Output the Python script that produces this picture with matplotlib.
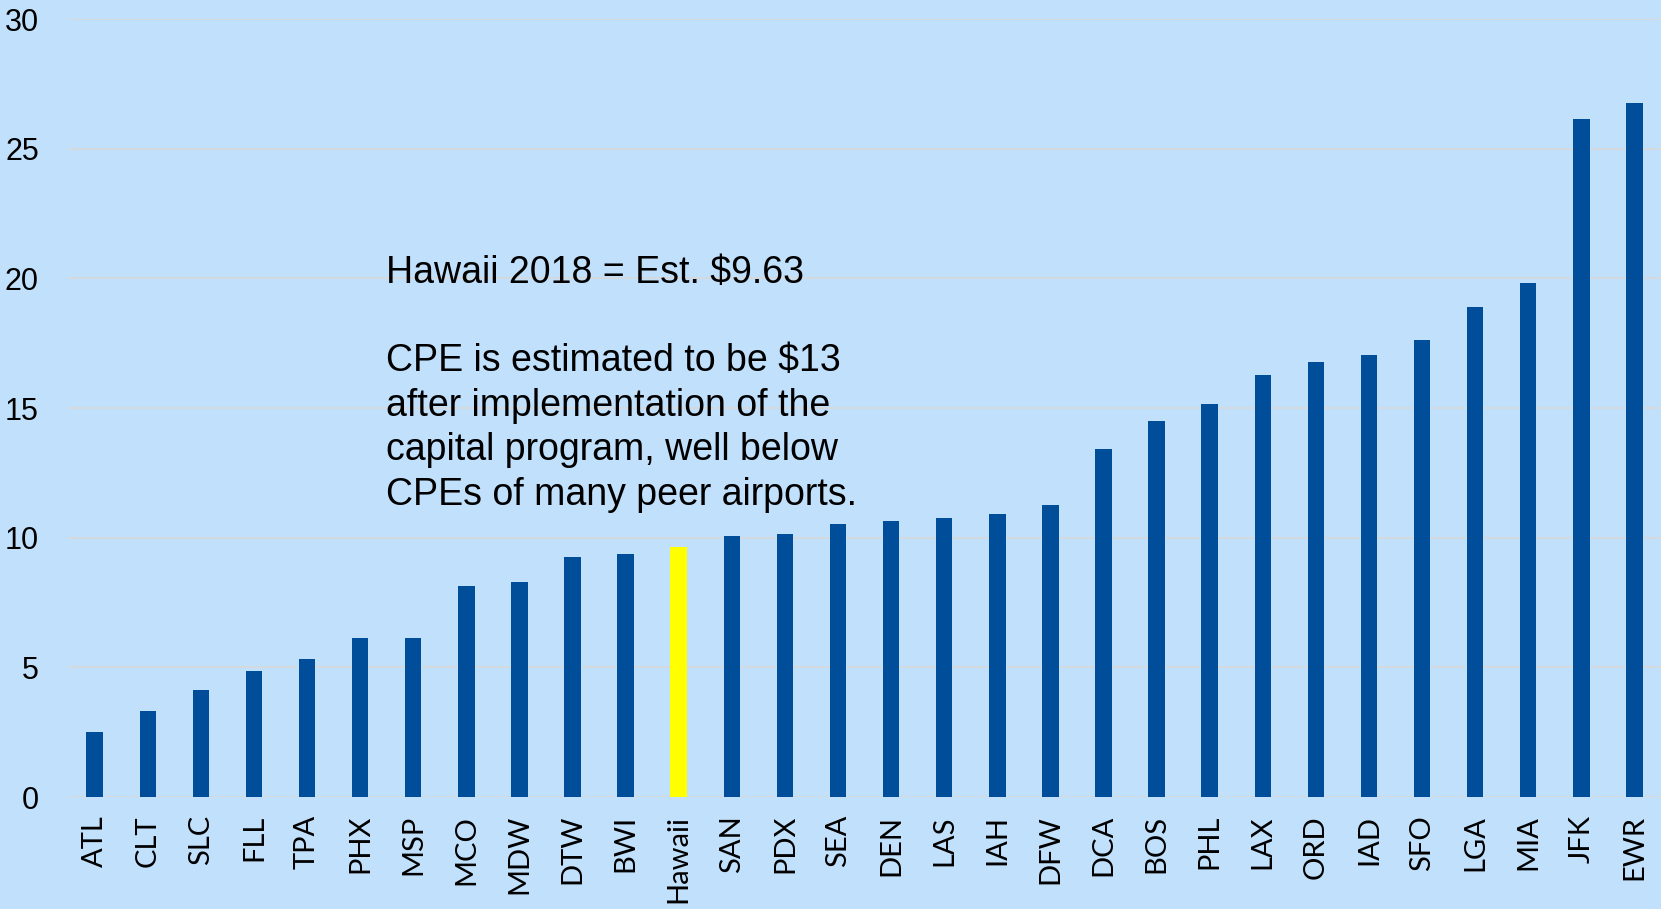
import matplotlib.pyplot as plt

airports = ["ATL", "CLT", "SLC", "FLL", "TPA", "PHX", "MSP", "MCO", "MDW", "DTW",
            "BWI", "Hawaii", "SAN", "PDX", "SEA", "DEN", "LAS", "IAH", "DFW", "DCA",
            "BOS", "PHL", "LAX", "ORD", "IAD", "SFO", "LGA", "MIA", "JFK", "EWR"]
cpe = [2.50, 3.32, 4.13, 4.87, 5.32, 6.14, 6.14, 8.15, 8.31, 9.25,
       9.37, 9.63, 10.07, 10.15, 10.52, 10.64, 10.77, 10.92, 11.28, 13.44,
       14.50, 15.17, 16.26, 16.79, 17.05, 17.61, 18.89, 19.82, 26.16, 26.78]
highlight = "Hawaii"

bg = "#C1E0FC"
colors = ["#FFFF00" if a == highlight else "#004E9A" for a in airports]

fig = plt.figure(figsize=(16.61, 9.09), dpi=100, facecolor=bg)
ax = fig.add_axes([0.041, 0.1232, 0.959, 0.8558])
ax.set_facecolor(bg)

ax.bar(range(len(airports)), cpe, width=0.31, color=colors, zorder=3)
ax.set_xlim(-0.5, len(airports) - 0.5)
ax.set_ylim(0, 30)
ax.set_yticks(range(0, 31, 5))
ax.grid(axis="y", color="#D5D9DD", linewidth=1.4, zorder=0)
for s in ax.spines.values():
    s.set_visible(False)

ax.set_xticks(range(len(airports)))
ax.set_xticklabels(airports, rotation=90, fontsize=21, family="Lato")
ax.tick_params(axis="x", length=0, pad=13)
ax.tick_params(axis="y", length=0, pad=21, labelsize=22)
for lbl in ax.get_yticklabels():
    lbl.set_family("Liberation Sans")

note = ("Hawaii 2018 = Est. $9.63\n\n"
        "CPE is estimated to be $13\n"
        "after implementation of the\n"
        "capital program, well below\n"
        "CPEs of many peer airports.")
fig.text(0.2324, 0.720, note, fontsize=27, family="Liberation Sans",
         va="top", ha="left", linespacing=1.30)

fig.savefig("out.png", dpi=100, facecolor=bg)
